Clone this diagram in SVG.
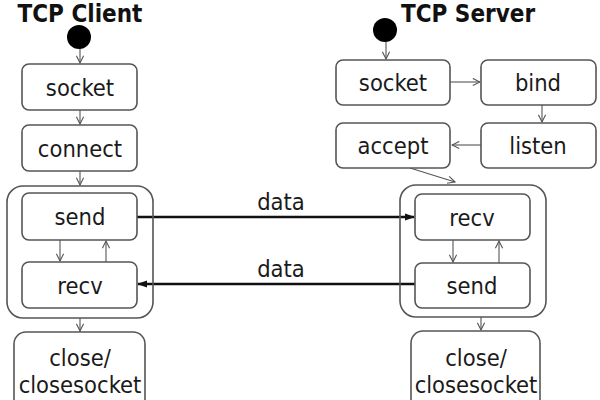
<svg xmlns="http://www.w3.org/2000/svg" width="600" height="400" viewBox="0 0 600 400">
<defs>
<marker id="open" viewBox="0 0 10 10" refX="9" refY="5" markerWidth="9" markerHeight="9" markerUnits="userSpaceOnUse" orient="auto">
<path d="M1,1 L9,5 L1,9" fill="none" stroke="#555" stroke-width="1.2"/>
</marker>
<marker id="solid" viewBox="0 0 10 10" refX="9" refY="5" markerWidth="10" markerHeight="10" markerUnits="userSpaceOnUse" orient="auto">
<path d="M0,1.5 L10,5 L0,8.5 Z" fill="#111"/>
</marker>
</defs>
<style>
.box{fill:#fff;stroke:#555;stroke-width:1.6}
.cont{fill:none;stroke:#555;stroke-width:1.6}
.lbl{font-family:"DejaVu Sans Condensed","DejaVu Sans",sans-serif;font-size:23.5px;fill:#1a1a1a;text-anchor:middle}
.title{font-family:"DejaVu Sans Condensed","DejaVu Sans",sans-serif;font-size:24px;font-weight:bold;fill:#111;text-anchor:middle}
.thin{fill:none;stroke:#555;stroke-width:1.1;marker-end:url(#open)}
.thick{fill:none;stroke:#111;stroke-width:2.6;marker-end:url(#solid)}
</style>
<rect width="600" height="400" fill="#fff"/>
<text class="title" x="80" y="22">TCP Client</text>
<text class="title" x="468" y="22">TCP Server</text>

<g id="connectors">
<line class="thin" x1="80" y1="48" x2="80" y2="63"/>
<line class="thin" x1="80" y1="110" x2="80" y2="124"/>
<line class="thin" x1="80" y1="171" x2="80" y2="185"/>
<line class="thin" x1="60" y1="240" x2="60" y2="261"/>
<line class="thin" x1="106" y1="262" x2="106" y2="241"/>
<line class="thin" x1="80" y1="318" x2="80" y2="331"/>
<line class="thin" x1="386" y1="42" x2="386" y2="59"/>
<line class="thin" x1="450" y1="82" x2="480" y2="82"/>
<line class="thin" x1="542" y1="105" x2="542" y2="122"/>
<line class="thin" x1="481" y1="145" x2="452" y2="145"/>
<line class="thin" x1="410" y1="168" x2="455" y2="182"/>
<line class="thin" x1="453" y1="240" x2="453" y2="262"/>
<line class="thin" x1="499" y1="263" x2="499" y2="241"/>
<line class="thin" x1="481" y1="317" x2="481" y2="330"/>
<line class="thick" x1="137" y1="217" x2="414" y2="217"/>
<line class="thick" x1="415" y1="284" x2="138" y2="284"/>
<text class="lbl" x="281" y="210">data</text>
<text class="lbl" x="281" y="277">data</text>
</g>

<g id="client-start"><circle cx="79" cy="37" r="12" fill="#000"/></g>
<g id="client-socket"><rect class="box" x="22" y="64" width="115" height="46" rx="7"/><text class="lbl" x="80" y="96">socket</text></g>
<g id="client-connect"><rect class="box" x="22" y="125" width="115" height="46" rx="7"/><text class="lbl" x="80" y="157">connect</text></g>
<g id="client-loop"><rect class="cont" x="7" y="186" width="146" height="132" rx="16"/></g>
<g id="client-send"><rect class="box" x="22" y="193" width="115" height="47" rx="7"/><text class="lbl" x="80" y="225">send</text></g>
<g id="client-recv"><rect class="box" x="22" y="262" width="115" height="46" rx="7"/><text class="lbl" x="80" y="294">recv</text></g>
<g id="client-close"><rect class="box" x="14" y="332" width="131" height="90" rx="12"/><text class="lbl" x="80" y="366">close/</text><text class="lbl" x="80" y="393">closesocket</text></g>

<g id="server-start"><circle cx="385" cy="30" r="12" fill="#000"/></g>
<g id="server-socket"><rect class="box" x="336" y="60" width="114" height="45" rx="7"/><text class="lbl" x="393" y="91">socket</text></g>
<g id="server-bind"><rect class="box" x="481" y="60" width="115" height="45" rx="7"/><text class="lbl" x="538" y="91">bind</text></g>
<g id="server-listen"><rect class="box" x="481" y="123" width="115" height="45" rx="7"/><text class="lbl" x="538" y="154">listen</text></g>
<g id="server-accept"><rect class="box" x="336" y="123" width="114" height="45" rx="7"/><text class="lbl" x="393" y="154">accept</text></g>
<g id="server-loop"><rect class="cont" x="400" y="185" width="146" height="132" rx="16"/></g>
<g id="server-recv"><rect class="box" x="415" y="194" width="115" height="46" rx="7"/><text class="lbl" x="472" y="226">recv</text></g>
<g id="server-send"><rect class="box" x="415" y="263" width="115" height="45" rx="7"/><text class="lbl" x="472" y="294">send</text></g>
<g id="server-close"><rect class="box" x="411" y="331" width="129" height="90" rx="12"/><text class="lbl" x="476" y="366">close/</text><text class="lbl" x="476" y="393">closesocket</text></g>
</svg>
